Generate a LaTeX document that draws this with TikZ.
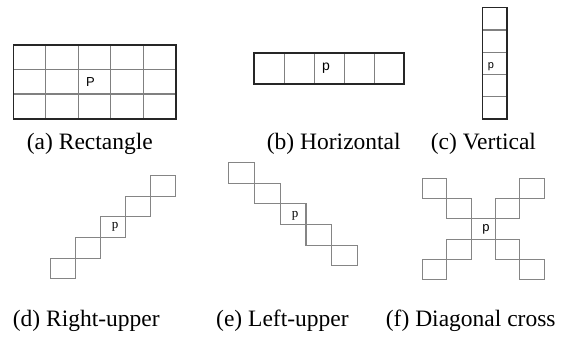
\documentclass[tikz,border=0pt]{standalone}
\usepackage{fontspec}
\setmainfont{Liberation Serif}
\newfontfamily\cellsans{Liberation Sans}
\begin{document}
\begin{tikzpicture}[x=1pt,y=-1pt,
  outerframe/.style={draw=black!85,line width=1.8pt},
  gridline/.style={draw=black!50,line width=1.1pt},
  diagcell/.style={draw=black!48,line width=1.1pt},
  caption/.style={anchor=base west,inner sep=0pt,font=\fontsize{23.5}{28}\selectfont},
  marksans/.style={inner sep=0pt,font=\cellsans\fontsize{#1}{#1}\selectfont},
  markserif/.style={inner sep=0pt,font=\fontsize{#1}{#1}\selectfont},
]
\useasboundingbox (0,0) rectangle (568,338);

% (a) 5x3 rectangle
\foreach \x in {45.9,78.4,110.8,143.3} \draw[gridline] (\x,44.7) -- (\x,118.7);
\foreach \y in {69.4,94} \draw[gridline] (13.5,\y) -- (175.7,\y);
\draw[outerframe] (13.5,44.7) rectangle (175.7,118.7);
\node[marksans=13] (pa) at (90.5,82) {P};

% (b) horizontal row
\foreach \x in {284.3,314.3,344.3,374.3} \draw[gridline] (\x,52.7) -- (\x,83.7);
\draw[outerframe] (254.3,52.7) rectangle (404.3,83.7);
\node[marksans=14] (pb) at (326,68.5) {p};

% (c) vertical column
\foreach \y in {30,52.2,74.5,96.7} \draw[gridline] (482.7,\y) -- (507,\y);
\draw[outerframe,line width=1.5pt] (482.7,7.7) rectangle (507,119);
\node[marksans=11] (pc) at (491,66.5) {p};

% (d) rising diagonal
\foreach \i in {0,...,4}
  \draw[diagcell] ({50.7+25*\i},{278.7-20.6*\i}) rectangle ++(25,-20.6);
\node[markserif=13] (pd) at (115,227) {p};

% (e) falling diagonal
\foreach \i in {0,...,4}
  \draw[diagcell] ({228.3+25.9*\i},{162.7+20.6*\i}) rectangle ++(25.9,20.6);
\node[markserif=13] (pe) at (295,216) {p};

% (f) diagonal cross
\foreach \c/\r in {0/0,1/1,2/2,3/3,4/4,0/4,1/3,3/1,4/0}
  \draw[diagcell] ({422.3+24.4*\c},{178.7+20.12*\r}) rectangle ++(24.4,20.12);
\node[marksans=13] (pf) at (486,229) {p};

% captions
\node[caption] (ca) at (26.7,149.5) {(a) Rectangle};
\node[caption] (cb) at (266.7,149.5) {(b) Horizontal};
\node[caption] (cc) at (430.7,149.5) {(c) Vertical};
\node[caption] (cd) at (12.7,326.5) {(d) Right-upper};
\node[caption] (ce) at (216,326.5) {(e) Left-upper};
\node[caption] (cf) at (385.7,326.5) {(f) Diagonal cross};
\end{tikzpicture}
\end{document}
